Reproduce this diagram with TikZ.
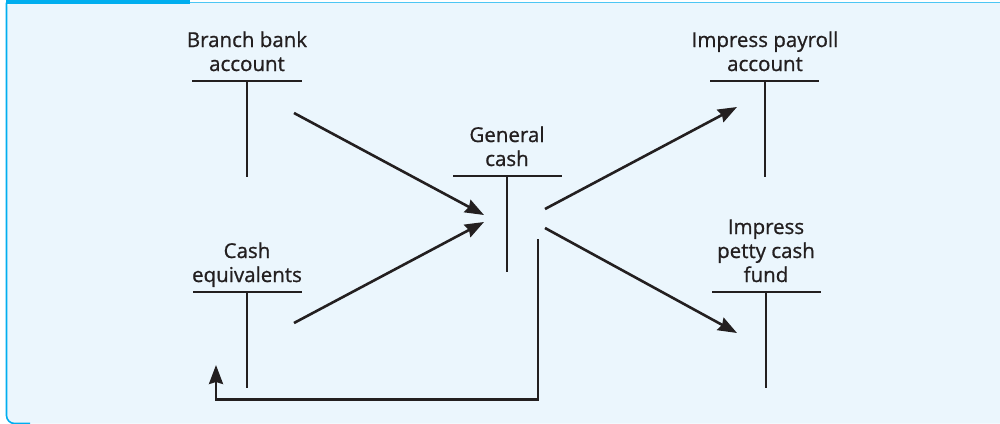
\documentclass[tikz,border=0pt]{standalone}
\usepackage{fontspec}
\setmainfont{Open Sans}
\newfontfamily\lblfont{Open Sans}[BoldFont={Open Sans}, BoldFeatures={FakeBold=0.9}]
\usetikzlibrary{arrows.meta}
\definecolor{bgblue}{HTML}{EBF6FD}
\definecolor{framecyan}{HTML}{00AEEF}
\definecolor{ink}{HTML}{231F20}
\begin{document}
\begin{tikzpicture}[x=1pt,y=-1pt,
  lbl/.style={font=\lblfont\bfseries\fontsize{20.5}{24}\selectfont, text=ink, align=center, inner sep=0pt, anchor=base},
  tline/.style={draw=ink, line width=1.8pt},
  flow/.style={draw=ink, line width=2.6pt, -{Stealth[length=19pt,width=14pt,inset=2pt]}},
  loopline/.style={draw=ink, line width=2.6pt, -{Stealth[length=19pt,width=14pt,inset=2pt]}}]
\useasboundingbox (0,0) rectangle (1000,423);
\begin{scope}
\clip (0,0) rectangle (1000,423);
\fill[bgblue, rounded corners=8pt] (6.5,2.5) rectangle (1020,423.5);
\draw[framecyan, line width=1.6pt, rounded corners=8pt] (6.5,2.5) -- (6.5,423.5) -- (30,423.5);
\draw[framecyan!70, line width=1.6pt] (6,2.5) -- (1000,2.5);
\fill[framecyan] (6,0) rectangle (190,4);
\end{scope}

% Branch bank account
\node[lbl] (bba) at (247,71) {Branch bank\\account};
\coordinate (bbaL) at (192,81); \coordinate (bbaR) at (302,81);
\coordinate (bbaT) at (247,81); \coordinate (bbaB) at (247,177);
\draw[tline] (bbaL) -- (bbaR); \draw[tline] (bbaT) -- (bbaB);

% Cash equivalents
\node[lbl] (ce) at (247,282) {Cash\\equivalents};
\coordinate (ceL) at (193,292); \coordinate (ceR) at (302,292);
\coordinate (ceT) at (247,292); \coordinate (ceB) at (247,388);
\draw[tline] (ceL) -- (ceR); \draw[tline] (ceT) -- (ceB);

% General cash
\node[lbl] (gc) at (507,166) {General\\cash};
\coordinate (gcL) at (453,176); \coordinate (gcR) at (562,176);
\coordinate (gcT) at (507,176); \coordinate (gcB) at (507,272);
\draw[tline] (gcL) -- (gcR); \draw[tline] (gcT) -- (gcB);

% Impress payroll account
\node[lbl] (ipa) at (765,71) {Impress payroll\\account};
\coordinate (ipaL) at (710,81); \coordinate (ipaR) at (819,81);
\coordinate (ipaT) at (765,81); \coordinate (ipaB) at (765,177);
\draw[tline] (ipaL) -- (ipaR); \draw[tline] (ipaT) -- (ipaB);

% Impress petty cash fund
\node[lbl] (ipc) at (766,282) {Impress\\petty cash\\fund};
\coordinate (ipcL) at (712,292); \coordinate (ipcR) at (821,292);
\coordinate (ipcT) at (766,292); \coordinate (ipcB) at (766,388);
\draw[tline] (ipcL) -- (ipcR); \draw[tline] (ipcT) -- (ipcB);

% arrows
\coordinate (a1s) at (294,113); \coordinate (a1e) at (484,215);
\coordinate (a2s) at (294,323); \coordinate (a2e) at (484,222);
\coordinate (a3s) at (545,209); \coordinate (a3e) at (737,107);
\coordinate (a4s) at (545,228); \coordinate (a4e) at (737,333);
\draw[flow] (a1s) -- (a1e);
\draw[flow] (a2s) -- (a2e);
\draw[flow] (a3s) -- (a3e);
\draw[flow] (a4s) -- (a4e);

\coordinate (rs) at (538,239); \coordinate (rc1) at (538,399.5);
\coordinate (rc2) at (216,399.5); \coordinate (re) at (216,365);
\draw[loopline] (rs) -- (rc1) -- (rc2) -- (re);
\end{tikzpicture}
\end{document}
